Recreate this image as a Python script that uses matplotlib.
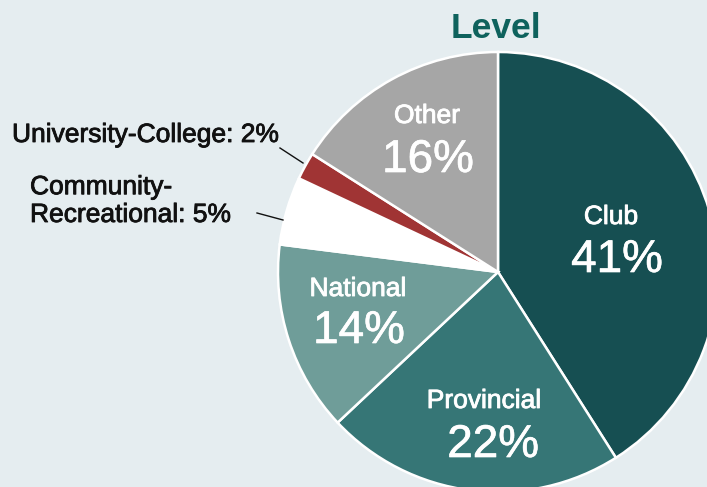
import matplotlib
matplotlib.use("Agg")
import matplotlib.pyplot as plt
import matplotlib.patheffects as pe

plt.rcParams['font.family'] = ['Liberation Sans', 'DejaVu Sans']

# slice data, clockwise from 12 o'clock
levels = ['Club', 'Provincial', 'National', 'Community-\nRecreational',
          'University-College', 'Other']
shares = [41, 22, 14, 5, 2, 16]
slice_colors = ['#164f52', '#367676', '#6f9d99', '#ffffff', '#a03434', '#a6a6a6']

bg = '#e5edf0'

fig = plt.figure(figsize=(7.07, 4.87), dpi=100, facecolor=bg)
ax = fig.add_axes([0, 0, 1, 1])
ax.set_facecolor(bg)

# y axis is flipped so coordinates read like pixels from the top-left,
# hence counterclock=True / startangle=-90 gives a clockwise pie from the top
wedges, _ = ax.pie(shares, colors=slice_colors, startangle=-90, counterclock=True,
                   center=(498, 272), radius=220,
                   wedgeprops=dict(edgecolor='white', linewidth=1.8))
ax.set_xlim(0, 707)
ax.set_ylim(487, 0)
ax.axis('off')


def heavy(c, w=0.6):
    # slightly thicker strokes, the source font is a bit heavier than regular
    return [pe.withStroke(linewidth=w, foreground=c)]


# in-slice labels: (name pos, pct pos)
inside = {
    'Club': ((611, 224), (617, 272)),
    'Provincial': ((484, 408), (493, 457)),
    'National': ((358, 296), (359, 343)),
    'Other': ((427, 123), (428, 172)),
}
for name, (npos, ppos) in inside.items():
    v = shares[levels.index(name)]
    ax.text(npos[0], npos[1], name, ha='center', va='baseline',
            fontsize=19, color='white', path_effects=heavy('white'))
    ax.text(ppos[0], ppos[1], f'{v}%', ha='center', va='baseline',
            fontsize=33, color='white', path_effects=heavy('white', 0.5))

# outside labels with leader lines
ax.text(12, 142, f'University-College: {shares[4]}%', ha='left', va='baseline',
        fontsize=19, color='#111111', path_effects=heavy('#111111'))
ax.plot([280, 303], [148, 163], color='#111111', lw=1)

ax.text(30, 222, f'Community-\nRecreational: {shares[3]}%', ha='left',
        va='baseline', fontsize=19, color='#111111', linespacing=1.2,
        path_effects=heavy('#111111'))
ax.plot([257, 283], [213, 220], color='#111111', lw=1)

ax.text(496, 38, 'Level', ha='center', va='baseline', fontsize=25.5,
        fontweight='bold', color='#0e625d')

fig.savefig('out.png', dpi=100, facecolor=bg)
